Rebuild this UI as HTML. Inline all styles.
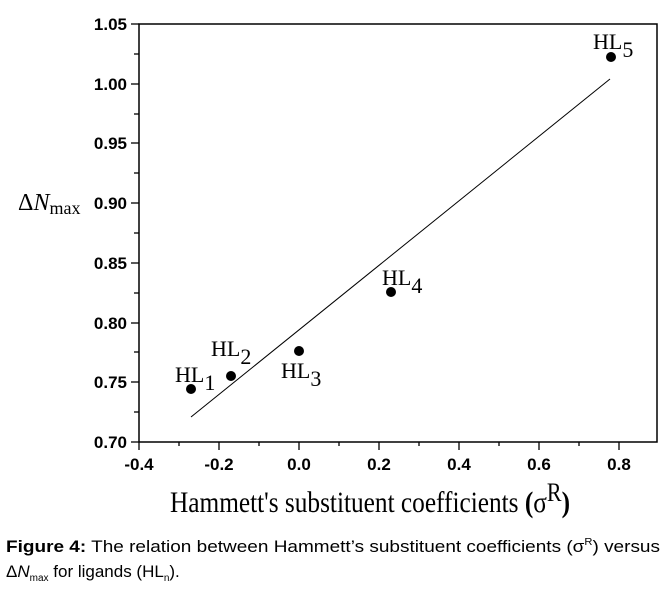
<!DOCTYPE html>
<html><head><style>body{margin:0;background:#fff}svg{display:block}</style></head>
<body>
<svg width="666" height="594" xmlns="http://www.w3.org/2000/svg">
<rect x="139" y="24" width="518" height="418" fill="none" stroke="#000" stroke-width="1.5"/>
<g stroke="#000" stroke-width="1.3">
<line x1="131" y1="24" x2="139" y2="24"/><line x1="134" y1="54" x2="139" y2="54"/>
<line x1="131" y1="84" x2="139" y2="84"/><line x1="134" y1="114" x2="139" y2="114"/>
<line x1="131" y1="143" x2="139" y2="143"/><line x1="134" y1="173" x2="139" y2="173"/>
<line x1="131" y1="203" x2="139" y2="203"/><line x1="134" y1="233" x2="139" y2="233"/>
<line x1="131" y1="263" x2="139" y2="263"/><line x1="134" y1="293" x2="139" y2="293"/>
<line x1="131" y1="323" x2="139" y2="323"/><line x1="134" y1="352" x2="139" y2="352"/>
<line x1="131" y1="382" x2="139" y2="382"/><line x1="134" y1="412" x2="139" y2="412"/>
<line x1="131" y1="442" x2="139" y2="442"/>
<line x1="139" y1="442" x2="139" y2="450"/><line x1="179" y1="442" x2="179" y2="446"/>
<line x1="219" y1="442" x2="219" y2="450"/><line x1="259" y1="442" x2="259" y2="446"/>
<line x1="299" y1="442" x2="299" y2="450"/><line x1="339" y1="442" x2="339" y2="446"/>
<line x1="379" y1="442" x2="379" y2="450"/><line x1="419" y1="442" x2="419" y2="446"/>
<line x1="459" y1="442" x2="459" y2="450"/><line x1="499" y1="442" x2="499" y2="446"/>
<line x1="539" y1="442" x2="539" y2="450"/><line x1="579" y1="442" x2="579" y2="446"/>
<line x1="619" y1="442" x2="619" y2="450"/>
</g>
<g font-family="Liberation Sans, sans-serif" font-weight="bold" font-size="17" text-anchor="end">
<text x="127" y="30">1.05</text><text x="127" y="90">1.00</text><text x="127" y="149">0.95</text>
<text x="127" y="209">0.90</text><text x="127" y="269">0.85</text><text x="127" y="329">0.80</text>
<text x="127" y="388">0.75</text><text x="127" y="448">0.70</text>
</g>
<g font-family="Liberation Sans, sans-serif" font-weight="bold" font-size="17" text-anchor="middle">
<text x="139" y="470">-0.4</text><text x="219" y="470">-0.2</text><text x="299" y="470">0.0</text>
<text x="379" y="470">0.2</text><text x="459" y="470">0.4</text><text x="539" y="470">0.6</text><text x="619" y="470">0.8</text>
</g>
<line x1="191" y1="417" x2="610" y2="79" stroke="#000" stroke-width="1"/>
<g fill="#000">
<circle cx="191" cy="389" r="5"/><circle cx="231" cy="376" r="5"/><circle cx="299" cy="351" r="5"/>
<circle cx="391" cy="292" r="5"/><circle cx="611" cy="57" r="5"/>
</g>
<g font-family="Liberation Serif, serif" font-size="22">
<text x="175" y="382">HL<tspan dy="8">1</tspan></text>
<text x="211" y="356">HL<tspan dy="8">2</tspan></text>
<text x="281" y="378">HL<tspan dy="8">3</tspan></text>
<text x="382" y="285">HL<tspan dy="8">4</tspan></text>
<text x="593" y="49">HL<tspan dy="8">5</tspan></text>
</g>
<text x="18" y="210" font-family="Liberation Serif, serif" font-size="24">Δ<tspan font-style="italic">N</tspan><tspan font-size="18" dy="4">max</tspan></text>
<text x="170" y="512" font-family="Liberation Serif, serif" font-size="30" textLength="400" lengthAdjust="spacingAndGlyphs">Hammett's  substituent coefficients <tspan font-weight="bold">(</tspan>σ<tspan font-size="26" dy="-11">R</tspan><tspan font-weight="bold" dy="11">)</tspan></text>
<text x="6" y="552" font-family="Liberation Sans, sans-serif" font-size="17" textLength="654" lengthAdjust="spacingAndGlyphs"><tspan font-weight="bold">Figure 4:</tspan> The relation between Hammett’s substituent coefficients (σ<tspan font-size="10" dy="-7">R</tspan><tspan dy="7">) versus</tspan></text>
<text x="6" y="577" font-family="Liberation Sans, sans-serif" font-size="17">Δ<tspan font-style="italic">N</tspan><tspan font-size="10" dy="4">max</tspan><tspan dy="-4"> for ligands (HL</tspan><tspan font-size="10" dy="4">n</tspan><tspan dy="-4">).</tspan></text>
</svg>
</body></html>
